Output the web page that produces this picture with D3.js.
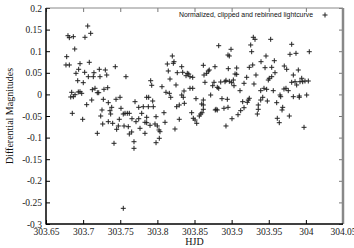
<!DOCTYPE html>
<html>
<head>
<meta charset="utf-8">
<script src="https://cdn.jsdelivr.net/npm/d3@7"></script>
<style>
  html, body { margin: 0; padding: 0; background: #fff; }
  #grafico { width: 354px; height: 248px; }
</style>
</head>
<body>
<div id="grafico"></div>
<script>
// Time axis (HJD) of each rebinned point
const hjd = [
  303.7062,303.7102,303.6796,303.6814,303.6868,303.7025,303.6887,303.6779,303.6769,303.6814,
  303.6958,303.7083,303.6904,303.694,303.7021,303.7146,303.707,303.7137,303.7227,303.7218,
  303.7299,303.7318,303.7433,303.7577,303.6927,303.7002,303.7124,303.716,303.7191,303.721,
  303.7281,303.7331,303.6846,303.6891,303.6935,303.6958,303.6981,303.6833,303.6868,303.7443,
  303.7497,303.7699,303.7116,303.7272,303.7339,303.7048,303.751,
  303.6854,303.6994,303.7191,303.7237,303.7254,303.7264,303.7362,303.7371,303.7385,303.7398,
  303.7416,303.7452,303.7474,303.7487,303.7541,303.7564,303.7595,303.7622,303.7551,303.7608,
  303.7622,303.7654,303.7685,303.7685,303.7658,303.7712,303.7749,303.7766,303.7789,303.781,
  303.7833,303.7856,303.7901,303.7833,303.7878,303.7945,303.7937,303.7982,303.7968,303.7999,
  303.8022,303.8035,303.8026,303.7982,303.8089,303.8103,303.8237,303.826,303.8295,303.8295,
  303.8363,303.8462,303.8484,303.8507,303.853,303.8565,303.7541,303.7339,303.7749,303.7856,
  303.8826,303.8992,303.8201,303.8224,303.8134,303.8215,303.8951,303.8969,303.8328,303.8619,
  303.8776,303.8955,303.9068,303.9046,303.9068,303.8147,303.8268,303.8341,303.8403,303.8422,
  303.8439,303.8476,303.8386,303.8686,303.8699,303.8664,303.8628,303.817,303.791,303.7924,
  303.8853,303.8911,303.8924,303.8969,303.8641,303.8763,303.8745,303.8807,303.8826,303.9023,
  303.9001,303.9032,303.8062,303.8251,303.8439,303.8476,303.8116,303.8161,303.818,303.8359,
  303.8328,303.8349,303.8718,303.887,303.8942,303.9113,303.7856,303.7883,303.852,303.8619,
  303.8597,303.879,303.8897,303.8951,303.9005,303.9086,303.8619,303.8619,303.8601,303.8584,
  303.878,303.8807,303.8924,
  303.9292,303.9315,303.9526,303.9257,303.9809,303.927,304.0046,303.9786,303.9867,303.9463,
  303.9575,303.9396,303.9284,303.9238,303.945,303.954,303.9709,303.9742,303.9898,303.9584,
  303.9328,303.9831,303.9203,303.954,303.9507,303.9494,303.9944,303.9921,303.9957,303.9988,
  304.0033,303.9809,303.9854,303.9167,303.9301,303.9436,303.9392,303.9472,303.9561,303.9705,
  303.9732,303.9763,303.9876,303.9652,303.9661,303.9831,303.9911,303.9911,304.0011,303.9419,
  303.9392,303.9238,303.9149,303.9211,303.9225,303.9481,303.9607,303.9359,303.9359,303.9346,
  303.9688,303.9679,303.9167,303.9122,303.9777,303.9615,303.9642,303.9975
];

// Differential magnitude of each point (same order as hjd)
const dmag = [
  0.1583,0.1414,0.1359,0.1313,0.1336,0.1322,0.1051,0.0873,0.0681,0.0681,
  0.0711,0.0743,0.0488,0.0581,0.0512,0.0502,0.041,0.041,0.041,0.0581,
  0.0565,0.0449,0.0641,0.041,0.0317,0.0271,0.0109,0.0141,0.0039,0.0039,
  0.0118,0.0155,0.0049,-0.0007,0.0056,0.0062,0.0025,-0.006,-0.0053,-0.0113,
  -0.0067,-0.0169,-0.013,-0.0113,-0.0192,-0.0238,-0.0322,
  -0.0438,-0.0576,-0.0901,-0.05,-0.0361,-0.0685,-0.0377,-0.0454,-0.0299,-0.0669,
  -0.1132,-0.0808,-0.0731,-0.0576,-0.0454,-0.0438,-0.0438,-0.0438,-0.0731,-0.0748,
  -0.0917,-0.087,-0.1095,-0.1248,-0.0563,-0.0632,-0.0563,-0.0785,-0.0438,-0.0285,
  -0.0646,-0.0655,-0.0715,-0.0901,-0.0285,-0.0285,-0.0153,-0.0516,-0.0685,-0.0731,
  -0.0824,-0.0863,-0.1016,-0.1118,-0.0424,-0.0646,-0.0801,-0.0285,-0.0245,-0.0576,
  -0.0206,-0.0424,-0.0553,-0.0593,-0.0669,-0.05,-0.2637,-0.0632,-0.0299,-0.053,
  0.1127,0.1044,0.0889,0.0757,0.0704,0.072,0.0912,0.0889,0.0641,0.0674,
  0.0641,0.0595,0.0611,0.0472,0.0465,0.0542,0.0502,0.0512,0.0488,0.0472,
  0.041,0.0396,0.0433,0.0542,0.0565,0.0488,0.0449,0.0356,0.0317,0.0211,
  0.0287,0.0294,0.0326,0.0303,0.028,0.028,0.0201,0.0164,0.0141,0.0333,
  0.0271,0.0201,0.0178,0.0218,0.0141,0.0141,0.0049,0.0025,-0.0067,0.0079,
  -0.0014,-0.0067,-0.0014,-0.0099,-0.0113,0.0086,-0.0067,-0.0067,-0.0099,-0.013,
  -0.0222,-0.0345,-0.0322,-0.0299,-0.0563,-0.047,-0.0245,-0.0345,-0.0424,-0.0454,
  -0.0361,-0.0361,-0.0731,
  0.1322,0.1275,0.1275,0.1144,0.116,0.0988,0.0988,0.0928,0.0951,0.0889,
  0.078,0.0757,0.0681,0.0627,0.0618,0.0627,0.0657,0.0581,0.0565,0.0502,
  0.0449,0.0449,0.0396,0.041,0.0373,0.0333,0.0373,0.0294,0.0294,0.031,
  0.031,0.028,0.0294,0.0257,0.0241,0.0141,0.0086,0.0118,0.0086,0.0125,
  0.0141,0.0086,0.0218,-0.0014,-0.0053,-0.0053,-0.0037,-0.0067,-0.0014,-0.0067,
  -0.013,-0.009,-0.0169,-0.0183,-0.013,-0.0153,-0.0192,-0.0245,-0.0345,-0.0454,
  -0.0299,-0.0361,-0.0308,-0.0377,-0.05,-0.0553,-0.0655,-0.0762
];

const xTicks = [303.65, 303.7, 303.75, 303.8, 303.85, 303.9, 303.95, 304, 304.05];
const xTickLabels = ["303.65", "303.7", "303.75", "303.8", "303.85", "303.9", "303.95", "304", "304.05"];
const yTicks = [0.2, 0.15, 0.1, 0.05, 0, -0.05, -0.1, -0.15, -0.2, -0.25, -0.3];
const yTickLabels = ["0.2", "0.15", "0.1", "0.05", "0", "-0.05", "-0.1", "-0.15", "-0.2", "-0.25", "-0.3"];

const xTitle = "HJD";
const yTitle = "Differential Magnitudes";
const seriesName = "Normalized, clipped and rebinned lightcurve";

const Grafico = (() => {

    const desenhar = () => {
        const largura = 354;
        const altura = 248;
        const margin = { top: 8, right: 11, bottom: 24, left: 46 };
        const serif = "'Liberation Serif', 'DejaVu Serif', serif";

        const pontos = hjd.map((t, i) => ({ t, m: dmag[i] }));

        const svg = d3.select("#grafico")
            .append("svg")
            .attr("width", largura)
            .attr("height", altura);

        const x = d3.scaleLinear()
            .domain([303.65, 304.05])
            .range([margin.left, largura - margin.right]);

        const y = d3.scaleLinear()
            .domain([-0.3, 0.2])
            .range([altura - margin.bottom, margin.top]);

        const x0 = x.range()[0], x1 = x.range()[1];
        const y0 = y.range()[0], y1 = y.range()[1];

        // eixo de baixo (ticks para dentro)
        const eixoX = svg.append("g")
            .attr("transform", `translate(0,${y0})`)
            .call(d3.axisBottom(x)
                .tickValues(xTicks)
                .tickFormat((d, i) => xTickLabels[i])
                .tickSizeInner(-4)
                .tickSizeOuter(0)
                .tickPadding(4));

        // eixo da esquerda
        const eixoY = svg.append("g")
            .attr("transform", `translate(${x0},0)`)
            .call(d3.axisLeft(y)
                .tickValues(yTicks)
                .tickFormat((d, i) => yTickLabels[i])
                .tickSizeInner(-4)
                .tickSizeOuter(0)
                .tickPadding(4));

        // espelhos em cima e a direita
        const eixoTopo = svg.append("g")
            .attr("transform", `translate(0,${y1})`)
            .call(d3.axisTop(x).tickValues(xTicks).tickFormat("").tickSizeInner(-4).tickSizeOuter(0));

        const eixoDir = svg.append("g")
            .attr("transform", `translate(${x1},0)`)
            .call(d3.axisRight(y).tickValues(yTicks).tickFormat("").tickSizeInner(-4).tickSizeOuter(0));

        [eixoX, eixoY, eixoTopo, eixoDir].forEach(g => g.select(".domain").remove());
        [eixoX, eixoY].forEach(g => {
            g.selectAll("line").attr("stroke", "#000");
            g.selectAll("text")
                .attr("fill", "#222")
                .style("font-family", serif)
                .style("font-size", "9.5px");
        });
        [eixoTopo, eixoDir].forEach(g => g.selectAll("line").attr("stroke", "#777"));

        // moldura
        svg.append("line").attr("x1", x0).attr("x2", x1).attr("y1", y1).attr("y2", y1)
            .attr("stroke", "#888").attr("stroke-width", 1);
        svg.append("line").attr("x1", x1).attr("x2", x1).attr("y1", y1).attr("y2", y0)
            .attr("stroke", "#888").attr("stroke-width", 2.5);
        svg.append("line").attr("x1", x0).attr("x2", x0).attr("y1", y1).attr("y2", y0 + 0.5)
            .attr("stroke", "#000").attr("stroke-width", 1.5);
        svg.append("line").attr("x1", x0).attr("x2", x1).attr("y1", y0).attr("y2", y0)
            .attr("stroke", "#000").attr("stroke-width", 1.5);

        // pontos em forma de +
        const cruz = "M-2.5,0H2.5M0,-2.5V2.5";
        svg.append("g")
            .selectAll("path")
            .data(pontos)
            .enter()
            .append("path")
            .attr("transform", d => `translate(${x(d.t)},${y(d.m)})`)
            .attr("d", cruz)
            .attr("fill", "none")
            .attr("stroke", "#222")
            .attr("stroke-width", 1);

        // legenda
        svg.append("text")
            .attr("x", 313)
            .attr("y", 17)
            .attr("text-anchor", "end")
            .style("font-family", "'Liberation Sans', Arial, sans-serif")
            .style("font-size", "6.9px")
            .attr("fill", "#111")
            .text(seriesName);
        svg.append("path")
            .attr("transform", "translate(325,15)")
            .attr("d", cruz)
            .attr("fill", "none")
            .attr("stroke", "#222");

        // titulos dos eixos
        svg.append("text")
            .attr("x", (x0 + x1) / 2)
            .attr("y", 245)
            .attr("text-anchor", "middle")
            .style("font-family", serif)
            .style("font-size", "10px")
            .attr("fill", "#111")
            .text(xTitle);

        svg.append("text")
            .attr("transform", `translate(13,${(y0 + y1) / 2}) rotate(-90)`)
            .attr("text-anchor", "middle")
            .style("font-family", serif)
            .style("font-size", "10px")
            .attr("fill", "#111")
            .text(yTitle);
    };

    return { desenhar };
})();

Grafico.desenhar();
</script>
</body>
</html>
